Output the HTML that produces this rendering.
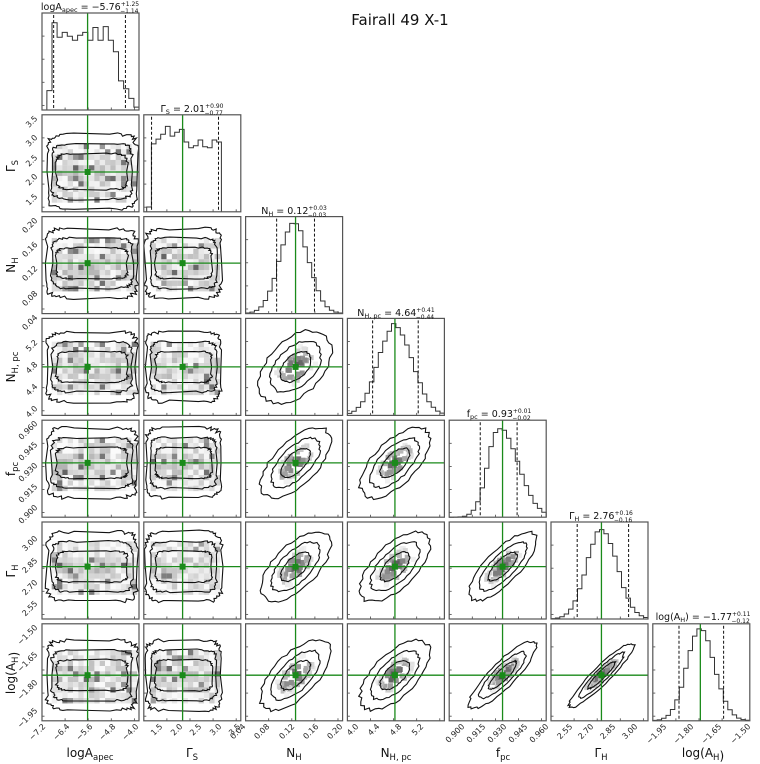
<!DOCTYPE html>
<html><head><meta charset="utf-8"><style>
html,body{margin:0;padding:0;background:#fff;}
svg{display:block;font-family:"DejaVu Sans","Liberation Sans",sans-serif;}
.t{font-size:8px;fill:#222;}
.ti{font-size:9.5px;fill:#111;}
.lab{font-size:12px;fill:#111;}
</style></head><body>
<svg id="s" width="760" height="764" viewBox="0 0 760 764" xmlns="http://www.w3.org/2000/svg">
<g id="shapes"></g>
<text x="400" y="25" font-size="15" text-anchor="middle" fill="#111">Fairall 49 X-1</text>
<text class="ti" x="90" y="10" text-anchor="middle">logA<tspan font-size="6.5" dy="2">apec</tspan><tspan dy="-2"> = −5.76</tspan><tspan font-size="6" dy="-4">+1.25</tspan><tspan font-size="6" dx="-19" dy="7">−1.14</tspan></text>
<text class="ti" x="192" y="112" text-anchor="middle">Γ<tspan font-size="6.5" dy="2">S</tspan><tspan dy="-2"> = 2.01</tspan><tspan font-size="6" dy="-4">+0.90</tspan><tspan font-size="6" dx="-19" dy="7">−0.77</tspan></text>
<text class="ti" x="294" y="214" text-anchor="middle">N<tspan font-size="6.5" dy="2">H</tspan><tspan dy="-2"> = 0.12</tspan><tspan font-size="6" dy="-4">+0.03</tspan><tspan font-size="6" dx="-19" dy="7">−0.03</tspan></text>
<text class="ti" x="396" y="316" text-anchor="middle">N<tspan font-size="6.5" dy="2">H, pc</tspan><tspan dy="-2"> = 4.64</tspan><tspan font-size="6" dy="-4">+0.41</tspan><tspan font-size="6" dx="-19" dy="7">−0.44</tspan></text>
<text class="ti" x="499" y="417" text-anchor="middle">f<tspan font-size="6.5" dy="2">pc</tspan><tspan dy="-2"> = 0.93</tspan><tspan font-size="6" dy="-4">+0.01</tspan><tspan font-size="6" dx="-19" dy="7">−0.02</tspan></text>
<text class="ti" x="601" y="519" text-anchor="middle">Γ<tspan font-size="6.5" dy="2">H</tspan><tspan dy="-2"> = 2.76</tspan><tspan font-size="6" dy="-4">+0.16</tspan><tspan font-size="6" dx="-19" dy="7">−0.16</tspan></text>
<text class="ti" x="703" y="620" text-anchor="middle">log(A<tspan font-size="6.5" dy="2">H</tspan><tspan dy="-2">) = −1.77</tspan><tspan font-size="6" dy="-4">+0.11</tspan><tspan font-size="6" dx="-19" dy="7">−0.12</tspan></text>
<text class="lab" x="90" y="757" text-anchor="middle">logA<tspan font-size="8.5" dy="3">apec</tspan></text>
<text class="lab" x="192" y="757" text-anchor="middle">Γ<tspan font-size="8.5" dy="3">S</tspan></text>
<text class="lab" x="294" y="757" text-anchor="middle">N<tspan font-size="8.5" dy="3">H</tspan></text>
<text class="lab" x="396" y="757" text-anchor="middle">N<tspan font-size="8.5" dy="3">H, pc</tspan></text>
<text class="lab" x="503" y="757" text-anchor="middle">f<tspan font-size="8.5" dy="3">pc</tspan></text>
<text class="lab" x="601" y="757" text-anchor="middle">Γ<tspan font-size="8.5" dy="3">H</tspan></text>
<text class="lab" x="703" y="757" text-anchor="middle">log(A<tspan font-size="8.5" dy="3">H</tspan>)</text>
<text class="lab" transform="translate(15,166) rotate(-90)" text-anchor="middle">Γ<tspan font-size="8.5" dy="3">S</tspan></text>
<text class="lab" transform="translate(15,265) rotate(-90)" text-anchor="middle">N<tspan font-size="8.5" dy="3">H</tspan></text>
<text class="lab" transform="translate(15,367) rotate(-90)" text-anchor="middle">N<tspan font-size="8.5" dy="3">H, pc</tspan></text>
<text class="lab" transform="translate(15,469) rotate(-90)" text-anchor="middle">f<tspan font-size="8.5" dy="3">pc</tspan></text>
<text class="lab" transform="translate(15,571) rotate(-90)" text-anchor="middle">Γ<tspan font-size="8.5" dy="3">H</tspan></text>
<text class="lab" transform="translate(15,673) rotate(-90)" text-anchor="middle">log(A<tspan font-size="8.5" dy="3">H</tspan>)</text>
<g class="t" text-anchor="end">
<text transform="translate(46,727) rotate(-45)">−7.2</text><text transform="translate(70,727) rotate(-45)">−6.4</text><text transform="translate(93,727) rotate(-45)">−5.6</text><text transform="translate(116,727) rotate(-45)">−4.8</text><text transform="translate(139,727) rotate(-45)">−4.0</text>
<text transform="translate(163,727) rotate(-45)">1.5</text><text transform="translate(183,727) rotate(-45)">2.0</text><text transform="translate(202,727) rotate(-45)">2.5</text><text transform="translate(222,727) rotate(-45)">3.0</text><text transform="translate(241,727) rotate(-45)">3.5</text>
<text transform="translate(246,727) rotate(-45)">0.04</text><text transform="translate(270,727) rotate(-45)">0.08</text><text transform="translate(295,727) rotate(-45)">0.12</text><text transform="translate(319,727) rotate(-45)">0.16</text><text transform="translate(343,727) rotate(-45)">0.20</text>
<text transform="translate(359,727) rotate(-45)">4.0</text><text transform="translate(380,727) rotate(-45)">4.4</text><text transform="translate(402,727) rotate(-45)">4.8</text><text transform="translate(424,727) rotate(-45)">5.2</text>
<text transform="translate(465,727) rotate(-45)">0.900</text><text transform="translate(486,727) rotate(-45)">0.915</text><text transform="translate(507,727) rotate(-45)">0.930</text><text transform="translate(528,727) rotate(-45)">0.945</text><text transform="translate(549,727) rotate(-45)">0.960</text>
<text transform="translate(573,727) rotate(-45)">2.55</text><text transform="translate(594,727) rotate(-45)">2.70</text><text transform="translate(616,727) rotate(-45)">2.85</text><text transform="translate(638,727) rotate(-45)">3.00</text>
<text transform="translate(667,727) rotate(-45)">−1.95</text><text transform="translate(694,727) rotate(-45)">−1.80</text><text transform="translate(722,727) rotate(-45)">−1.65</text><text transform="translate(751,727) rotate(-45)">−1.50</text>
</g>
<g class="t" text-anchor="end">
<text transform="translate(38,119) rotate(-45)">3.5</text><text transform="translate(38,138) rotate(-45)">3.0</text><text transform="translate(38,158) rotate(-45)">2.5</text><text transform="translate(38,177) rotate(-45)">2.0</text><text transform="translate(38,197) rotate(-45)">1.5</text>
<text transform="translate(38,221) rotate(-45)">0.20</text><text transform="translate(38,245) rotate(-45)">0.16</text><text transform="translate(38,269) rotate(-45)">0.12</text><text transform="translate(38,294) rotate(-45)">0.08</text><text transform="translate(38,318) rotate(-45)">0.04</text>
<text transform="translate(38,343) rotate(-45)">5.2</text><text transform="translate(38,365) rotate(-45)">4.8</text><text transform="translate(38,387) rotate(-45)">4.4</text><text transform="translate(38,409) rotate(-45)">4.0</text>
<text transform="translate(38,424) rotate(-45)">0.960</text><text transform="translate(38,445) rotate(-45)">0.945</text><text transform="translate(38,466) rotate(-45)">0.930</text><text transform="translate(38,487) rotate(-45)">0.915</text><text transform="translate(38,508) rotate(-45)">0.900</text>
<text transform="translate(38,539) rotate(-45)">3.00</text><text transform="translate(38,561) rotate(-45)">2.85</text><text transform="translate(38,583) rotate(-45)">2.70</text><text transform="translate(38,604) rotate(-45)">2.55</text>
<text transform="translate(38,628) rotate(-45)">−1.50</text><text transform="translate(38,655) rotate(-45)">−1.65</text><text transform="translate(38,683) rotate(-45)">−1.80</text><text transform="translate(38,711) rotate(-45)">−1.95</text>
</g>
</svg>
<script>
(function(){
var NS="http://www.w3.org/2000/svg",G=document.getElementById("shapes");
function el(t,a){var e=document.createElementNS(NS,t);for(var k in a)e.setAttribute(k,a[k]);G.appendChild(e);return e;}
var seed=7;function rnd(){seed=(seed*16807)%2147483647;return (seed-1)/2147483646;}
var W=97,P=101.8;
function px(c){return 42+P*c;} function py(r){return 13+P*r;}
var xf=[0.47,0.40,0.515,0.49,0.55,0.52,0.49];
var yf=[0,0.59,0.48,0.5,0.44,0.46,0.53];
var q=[[.12,.86],[.08,.77],[.32,.71],[.26,.73],[.32,.70],[.27,.80],[.27,.73]];
var hists=[
 {s:.05,e:1.0,v:[.2,.9,.75,.8,.76,.72,.77,.8,.72,.85,.72,.86,.72,.6,.3,.22,.12,.03]},
 {s:.03,e:.80,v:[.05,.7,.75,.8,.88,.78,.82,.85,.72,.66,.68,.74,.67,.66,.74,.72]}
];
var gp=[[.5,.15,.15],[.49,.17,.18],[.52,.12,.19],[.52,.15,.16],[.49,.14,.15]];
for(var k=2;k<7;k++){var a=gp[k-2],v=[];for(var i=0;i<22;i++){var x=(i+.5)/22;var s=x<a[0]?a[1]:a[2];var g=Math.exp(-0.5*Math.pow((x-a[0])/s,2));v.push(Math.max(0,g*0.93*(1+0.06*(rnd()-.5))));}hists.push({s:0,e:1,v:v});}
function ticks(x0,y0){
 for(var i=1;i<5;i++){var t=i/4.2;el("line",{x1:x0+W*t,y1:y0+W,x2:x0+W*t,y2:y0+W-2.5,stroke:"#444","stroke-width":.8});
 el("line",{x1:x0,y1:y0+W*t,x2:x0+2.5,y2:y0+W*t,stroke:"#444","stroke-width":.8});}
}
function poly(pts){var d="";pts.forEach(function(p,i){d+=(i?"L":"M")+p[0].toFixed(1)+" "+p[1].toFixed(1);});return d+"Z";}
for(var r=0;r<7;r++)for(var c=0;c<=r;c++){
 var x0=px(c),y0=py(r);
 el("rect",{x:x0,y:y0,width:W,height:W,fill:"#fff"});
 if(r==c){
  var h=hists[c],n=h.v.length,bw=(h.e-h.s)*W/n,d="M"+(x0+h.s*W)+" "+(y0+W);
  for(var i=0;i<n;i++){var yy=y0+W-h.v[i]*W;d+="L"+(x0+h.s*W+i*bw).toFixed(1)+" "+yy.toFixed(1)+"L"+(x0+h.s*W+(i+1)*bw).toFixed(1)+" "+yy.toFixed(1);}
  d+="L"+(x0+h.e*W)+" "+(y0+W);
  el("path",{d:d,fill:"none",stroke:"#333","stroke-width":1});
  q[c].forEach(function(f){el("line",{x1:x0+f*W,y1:y0+2,x2:x0+f*W,y2:y0+W,stroke:"#111","stroke-width":1,"stroke-dasharray":"3,2"});});
  el("line",{x1:x0+xf[c]*W,y1:y0,x2:x0+xf[c]*W,y2:y0+W,stroke:"#1a8a1a","stroke-width":1.3});
 } else {
  var cx=x0+xf[c]*W,cy=y0+yf[r]*W;
  if(c<2||r<=2){
   var L=c==0?.05:.02,R=c==0?.98:.8, hh=r==1?.36:.36;
   var ctop=r==1?.2:Math.max(.06,yf[r]-hh), cbot=r==1?.97:Math.min(.96,yf[r]+hh);
   for(var gx=L+.05;gx<R-.05;gx+=.055)for(var gy=ctop+.1;gy<cbot-.1;gy+=.055){var gv=Math.floor(175+70*rnd());if(rnd()<.08)gv=90+Math.floor(50*rnd());var dy=Math.abs((gy-(ctop+cbot)/2)/((cbot-ctop)/2));gv=Math.min(250,gv+Math.floor(dy*40));el("rect",{x:x0+gx*W,y:y0+gy*W,width:W*.056,height:W*.056,fill:"rgb("+gv+","+gv+","+gv+")"});}
   [0,1,2].forEach(function(l){var sh=[.0,.05,.1][l],sv=[.0,.1,.2][l],pts=[];
    for(var i=0;i<70;i++){var t=i/70*2*Math.PI,ct=Math.cos(t),st=Math.sin(t);
     var ex=Math.sign(ct)*Math.pow(Math.abs(ct),.3),ey=Math.sign(st)*Math.pow(Math.abs(st),.3);
     var mx=(L+R)/2,rx=(R-L)/2-sh,my=(ctop+cbot)/2,ry=(cbot-ctop)/2-sv;
     var j=1+(l==0?.1:.08)*(rnd()-.5);
     pts.push([x0+(mx+rx*ex*j)*W,y0+(my+ry*ey*j)*W]);}
    el("path",{d:poly(pts),fill:"none",stroke:"#111","stroke-width":1.1});});
  } else {
   var A=.46,B=.22; if(c>=4&&r==6){A=.47;B=.13;} if(c==5){A=.46;B=.09;} if(c==4&&r==5){A=.47;B=.17;}
   if(c==2&&r==3){A=.45;B=.28;}
   var ang=-Math.PI/4;
   for(var i=0;i<45;i++){var u=(rnd()*2-1)*.45,w=(rnd()*2-1)*.45;var gx=cx+(u*A*Math.cos(ang)-w*B*Math.sin(ang))*W,gy=cy+(u*A*Math.sin(ang)+w*B*Math.cos(ang))*W;var gv=Math.floor(60+230*(Math.abs(u)+Math.abs(w))+20*rnd());gv=Math.min(240,gv);el("rect",{x:gx-2.5,y:gy-2.5,width:5,height:5,fill:"rgb("+gv+","+gv+","+gv+")"});}
   [1,.7,.42].forEach(function(sc){var pts=[];for(var i=0;i<50;i++){var t=i/50*2*Math.PI,j=1+.1*(rnd()-.5);var ex=Math.cos(t)*A*sc*j,ey=Math.sin(t)*B*sc*j;pts.push([cx+(ex*Math.cos(ang)-ey*Math.sin(ang))*W,cy+(ex*Math.sin(ang)+ey*Math.cos(ang))*W]);}
    el("path",{d:poly(pts),fill:"none",stroke:"#111","stroke-width":1.1});});
  }
  el("line",{x1:cx,y1:y0,x2:cx,y2:y0+W,stroke:"#1a8a1a","stroke-width":1.3});
  el("line",{x1:x0,y1:cy,x2:x0+W,y2:cy,stroke:"#1a8a1a","stroke-width":1.3});
  el("rect",{x:cx-3,y:cy-3,width:6,height:6,fill:"#1a8a1a"});
 }
 ticks(x0,y0);
 el("rect",{x:x0,y:y0,width:W,height:W,fill:"none",stroke:"#555","stroke-width":1.2});
}
})();
</script>
</body></html>
